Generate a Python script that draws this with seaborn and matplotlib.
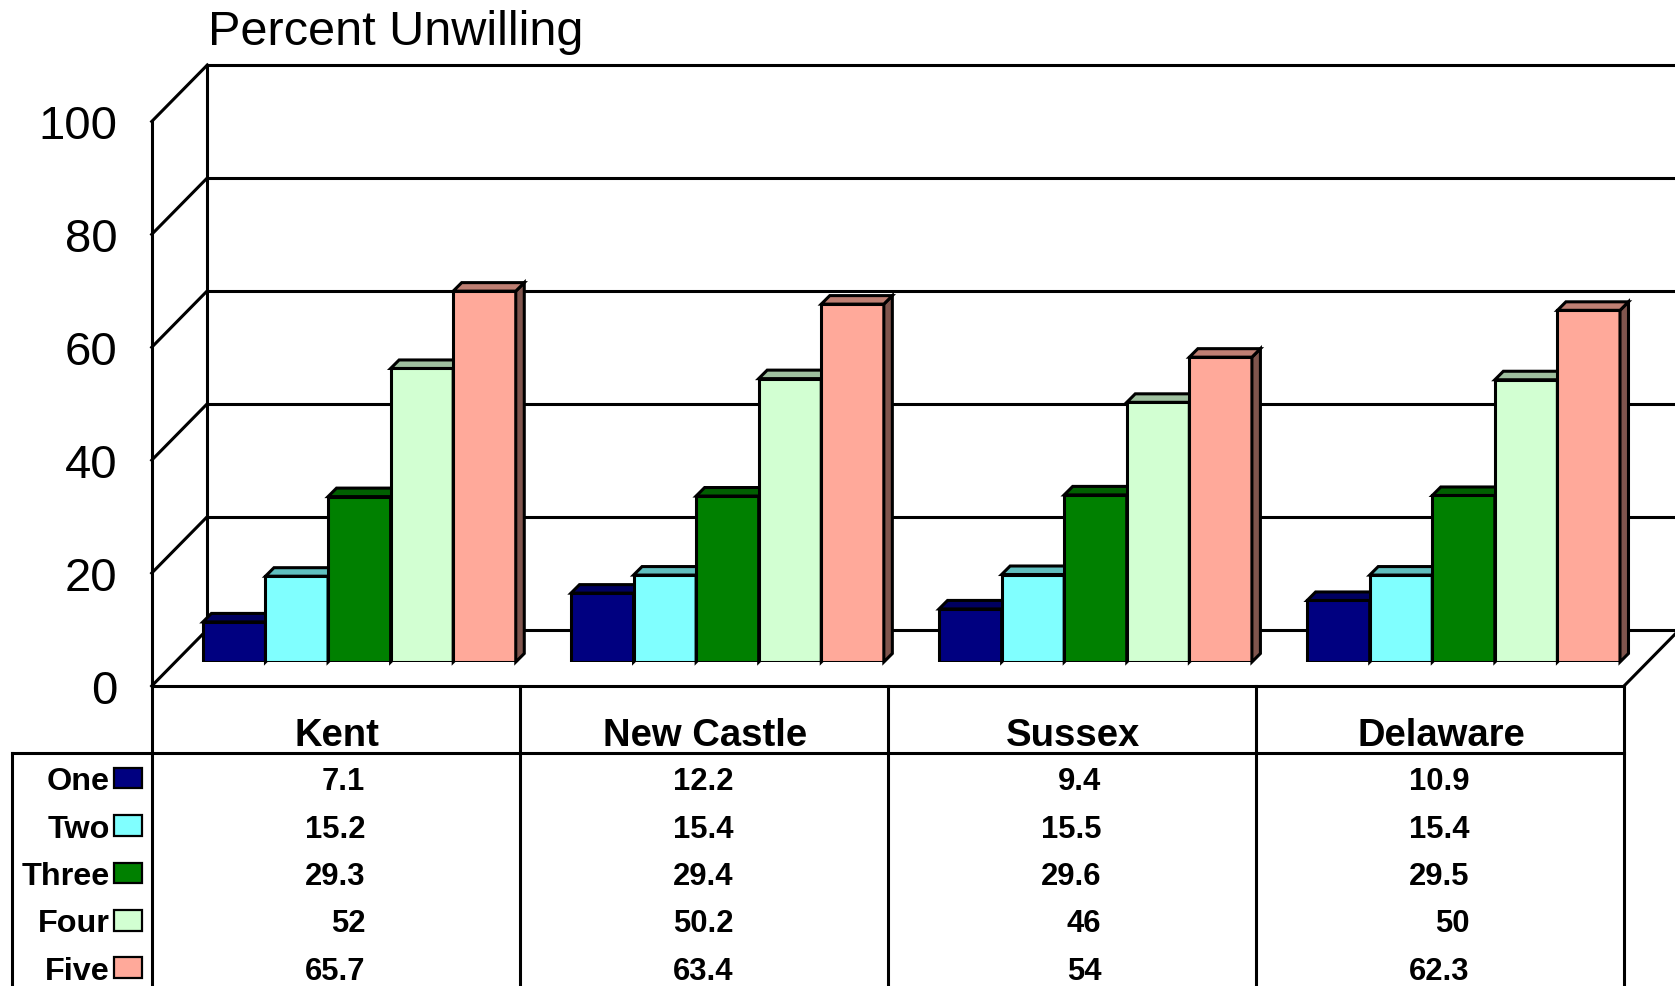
import matplotlib
matplotlib.use("Agg")
import matplotlib.pyplot as plt
from matplotlib.patches import Polygon, Rectangle
from matplotlib.colors import to_rgb
import seaborn as sns
import pandas as pd

# ---- data ----
counties = ["Kent", "New Castle", "Sussex", "Delaware"]
groups = ["One", "Two", "Three", "Four", "Five"]
one = [7.1, 12.2, 9.4, 10.9]
two = [15.2, 15.4, 15.5, 15.4]
three = [29.3, 29.4, 29.6, 29.5]
four = [52, 50.2, 46, 50]
five = [65.7, 63.4, 54, 62.3]
group_colors = ["#000080", "#80FFFF", "#008000", "#D2FFD2", "#FFA99A"]
y_ticks = [0, 20, 40, 60, 80, 100]
title = "Percent Unwilling"

series = [one, two, three, four, five]
df = pd.DataFrame({
    "county": [c for s in series for c in counties],
    "group": [g for g, s in zip(groups, series) for _ in s],
    "value": [v for s in series for v in s],
})

sns.set_style("white")
plt.rcParams["font.family"] = ["Liberation Sans", "DejaVu Sans"]
plt.rcParams["text.color"] = "black"

W, H, DPI = 1675, 987, 100
fig = plt.figure(figsize=(W / DPI, H / DPI), dpi=DPI)

# layout of the bar plane, in pixels from the top-left corner
PLOT_L, PLOT_R = 175.3, 1647.6
ZERO_Y, FULL_PX = 663.0, 564.5
FRONT = (-23.6, -24.0)   # shift from the bar plane to the front edge of the floor
BACK = (32.0, 32.5)      # shift from the bar plane to the back wall
BAR_DEPTH = 8.5
LW = 2.2
n = len(counties)

ax = fig.add_axes([PLOT_L / W, (H - ZERO_Y) / H, (PLOT_R - PLOT_L) / W, FULL_PX / H])
sns.barplot(data=df, x="county", y="value", hue="group", order=counties,
            hue_order=groups, palette=group_colors, saturation=1, width=0.85,
            edgecolor="black", linewidth=LW, legend=False, errorbar=None, ax=ax)
x0, x1 = -0.5, n - 0.5
ax.set_xlim(x0, x1)
ax.set_ylim(0, 100)
ax.axis("off")

ux = n / (PLOT_R - PLOT_L)   # data units per pixel
uy = 100 / FULL_PX


def at(x, y, off):
    return (x + off[0] * ux, y + off[1] * uy)


def seg(p, q, **kw):
    ax.plot([p[0], q[0]], [p[1], q[1]], color="black", lw=LW,
            solid_capstyle="projecting", clip_on=False, zorder=2, **kw)


# back wall, left wall and floor
for v in y_ticks:
    seg(at(x0, v, BACK), at(x1, v, BACK))
    seg(at(x0, v, FRONT), at(x0, v, BACK))
seg(at(x0, 0, BACK), at(x0, 100, BACK))
seg(at(x1, 0, BACK), at(x1, 100, BACK))
seg(at(x0, 0, FRONT), at(x0, 100, FRONT))
seg(at(x0, 0, FRONT), at(x1, 0, FRONT))
seg(at(x1, 0, FRONT), at(x1, 0, BACK))

# value labels on the front axis
for v in y_ticks:
    ax.text(*at(x0, v, (FRONT[0] - 34.5, FRONT[1] - 17.0)), f"{v}",
            ha="right", va="baseline", fontsize=34, clip_on=False)

# give every bar a shaded top and right side
bx, by = BAR_DEPTH * ux, BAR_DEPTH * uy
bars = sorted([p for p in ax.patches if isinstance(p, Rectangle)], key=lambda p: p.get_x())
for rank, bar in enumerate(bars):
    x, w, h = bar.get_x(), bar.get_width(), bar.get_height()
    rgb = to_rgb(bar.get_facecolor())
    z = 10 + 3 * rank
    bar.set_zorder(z)
    bar.set_joinstyle("miter")
    top = Polygon([(x, h), (x + w, h), (x + w + bx, h + by), (x + bx, h + by)],
                  closed=True, facecolor=[c * 0.75 for c in rgb], edgecolor="black",
                  lw=LW, joinstyle="miter", zorder=z + 1, clip_on=False)
    side = Polygon([(x + w, 0), (x + w + bx, by), (x + w + bx, h + by), (x + w, h)],
                   closed=True, facecolor=[c * 0.5 for c in rgb], edgecolor="black",
                   lw=LW, joinstyle="miter", zorder=z + 1, clip_on=False)
    ax.add_patch(side)
    ax.add_patch(top)

fig.text(208 / W, 1 - 45 / H, title, fontsize=35, ha="left", va="baseline")

# ---- data table under the chart ----
FRONT_L = PLOT_L + FRONT[0]
CELL = (PLOT_R - PLOT_L) / n
TABLE_TOP = ZERO_Y - FRONT[1]


def col(px):
    return -0.5 + (px - FRONT_L) / CELL


tax = fig.add_axes([0, 0, 1, (H - TABLE_TOP) / H])
tax.set_xlim(col(0), col(W))
tax.set_ylim(H - TABLE_TOP, 0)
tax.axis("off")

HEADER_H = 67
ROW0, ROW_H = 103.3, 47.4
TABLE_L = col(12.3)
tline = dict(color="black", lw=LW, solid_capstyle="projecting", clip_on=False)
for k in range(n + 1):
    tax.plot([x0 + k, x0 + k], [0, H], **tline)
tax.plot([TABLE_L, x1], [HEADER_H, HEADER_H], **tline)
tax.plot([TABLE_L, TABLE_L], [HEADER_H, H], **tline)

for i, name in enumerate(counties):
    tax.text(i + 1.5 / CELL, 59, name, ha="center", va="baseline", fontsize=27.5,
             weight="bold")

for r, (name, color, vals) in enumerate(zip(groups, group_colors, series)):
    base = ROW0 + ROW_H * r
    tax.text(col(109.5), base, name, ha="right", va="baseline", fontsize=23.3,
             weight="bold")
    tax.add_patch(Rectangle((col(113.7), base - 21.6), 28.6 / CELL, 20.6,
                            facecolor=color, edgecolor="black", lw=1.6))
    for i, v in enumerate(vals):
        tax.text(i + 29.5 / CELL, base, f"{v:g}", ha="right", va="baseline",
                 fontsize=22.3, weight="bold")

fig.savefig("out.png", dpi=DPI, facecolor="white")
